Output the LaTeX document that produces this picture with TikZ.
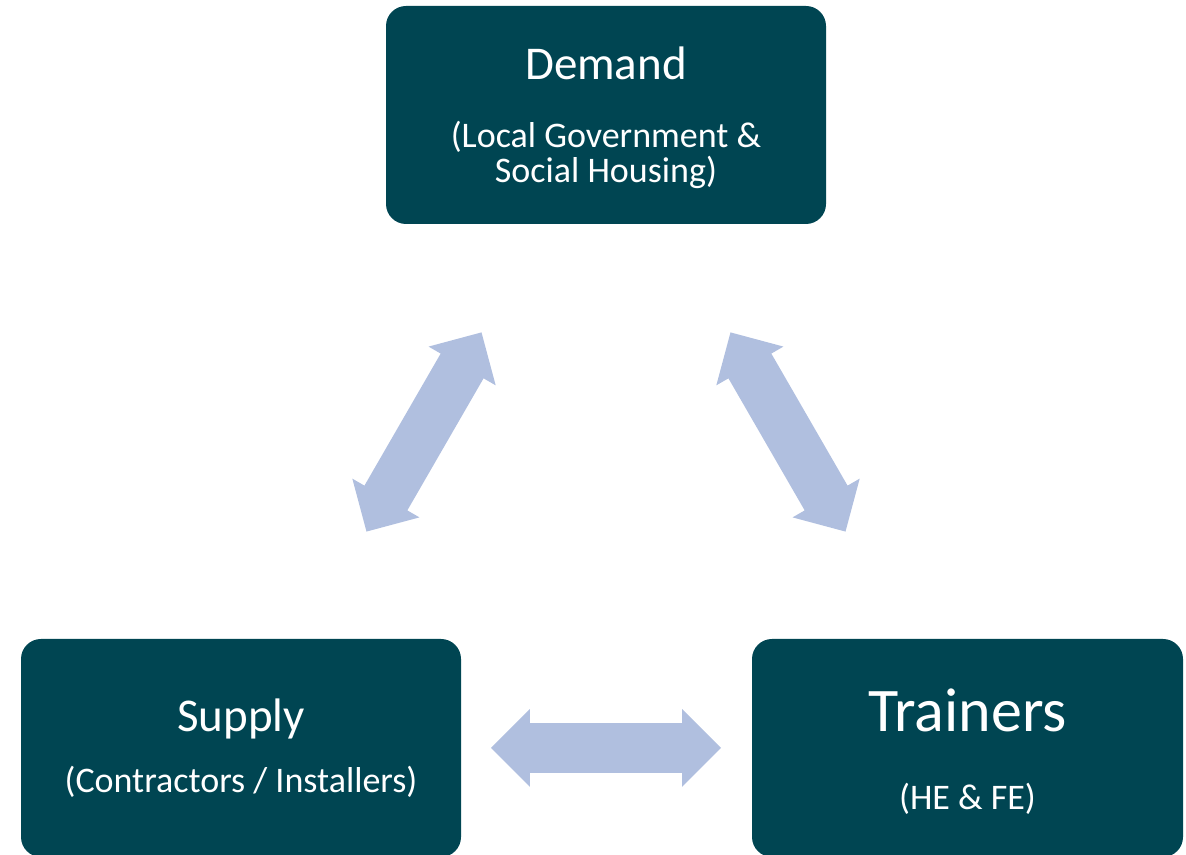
\documentclass[tikz,border=0pt]{standalone}
\usepackage{fontspec}
\setmainfont{Carlito}
\usetikzlibrary{shapes.arrows}
\definecolor{boxteal}{HTML}{004552}
\definecolor{arrowblue}{HTML}{B0BFDF}
\begin{document}
\begin{tikzpicture}[x=0.75pt,y=0.75pt,
		box/.style={rectangle,rounded corners=15pt,fill=boxteal,inner sep=0pt,minimum width=330pt,minimum height=163.5pt},
		title/.style={text=white,anchor=base,inner sep=0pt,font=\fontsize{35.25}{42}\selectfont},
		bigtitle/.style={title,font=\fontsize{46.5}{56}\selectfont},
		sub/.style={text=white,anchor=base,inner sep=0pt,align=center,font=\fontsize{27}{26.25}\selectfont},
		dblarrow/.style={double arrow,fill=arrowblue,inner xsep=0pt,inner ysep=18.375pt,minimum height=172.5pt,double arrow head extend=10.5pt}]
			\useasboundingbox (0,0) rectangle (1186,855);
			% boxes
			\node[box] (demand) at (606,740) {};
			\node[box] (supply) at (241,107) {};
			\node[box,minimum width=323.25pt] (trainers) at (967.5,107) {};
			% texts
			\node[title] (demandTitle) at ([yshift=26.25pt]demand.center) {Demand};
			\node[sub] (demandSub) at ([yshift=-51pt]demand.center) {(Local Government \&\\Social Housing)};
			\node[title] (supplyTitle) at ([yshift=12pt]supply.center) {Supply};
			\node[sub] (supplySub) at ([yshift=-33.75pt]supply.center) {(Contractors / Installers)};
			\node[bigtitle] (trainersTitle) at ([yshift=12pt]trainers.center) {Trainers};
			\node[sub] (trainersSub) at ([yshift=-46.5pt]trainers.center) {(HE \& FE)};
			% arrows
			\node[dblarrow,rotate=60] (demandSupply) at (424,423) {};
			\node[dblarrow,rotate=-60] (demandTrainers) at (788,423) {};
			\node[dblarrow] (supplyTrainers) at (606,107) {};
\end{tikzpicture}
\end{document}
